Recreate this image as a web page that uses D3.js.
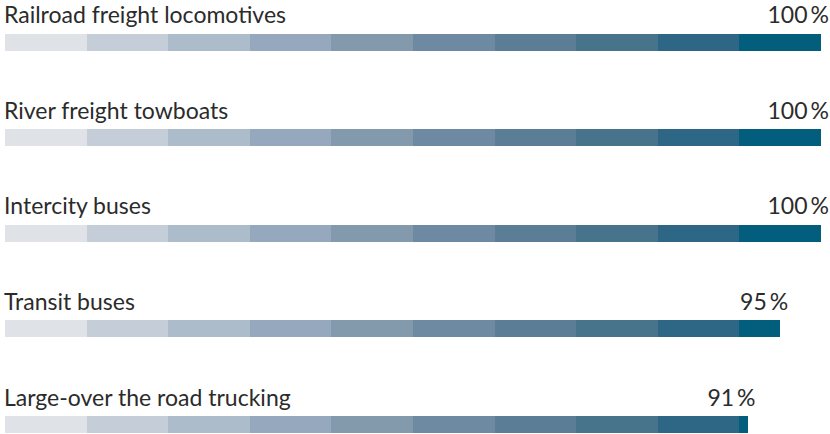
<!DOCTYPE html>
<html>
<head>
<meta charset="utf-8">
<script src="https://cdn.jsdelivr.net/npm/d3@7"></script>
<style>
  body { margin: 0; background: #fff; }
  svg { display: block; }
</style>
</head>
<body>
<div id="chart"></div>
<script>
const width = 830;
const height = 434;

const categories = [
  "Railroad freight locomotives",
  "River freight towboats",
  "Intercity buses",
  "Transit buses",
  "Large-over the road trucking"
];
const values = [100, 100, 100, 95, 91];
const steps = [0, 10, 20, 30, 40, 50, 60, 70, 80, 90];
const stepColors = [
  "#dfe3e8", "#c5ced8", "#adbccb", "#96a8bd", "#8399ac",
  "#6d8aa2", "#5b7e96", "#47748b", "#2e6785", "#035e7d"
];

const rows = categories.map((c, i) => ({ name: c, value: values[i] }));

let svg = d3.select("#chart")
            .append("svg")
            .attr("width", width)
            .attr("height", height);

let xScale = d3.scaleLinear().domain([0, 100]).range([5, 821]);
let yScale = d3.scalePoint().domain(categories).range([33.5, 416]);
const barHeight = 17;

let row = svg.selectAll(".row")
             .data(rows)
             .enter()
             .append("g")
             .attr("class", "row")
             .attr("transform", d => `translate(0,${yScale(d.name)})`);

row.selectAll("rect")
   .data(d => steps.filter(s => s < d.value).map(s => ({ start: s, end: Math.min(s + 10, d.value) })))
   .enter()
   .append("rect")
   .attr("x", d => xScale(d.start))
   .attr("width", d => xScale(d.end) - xScale(d.start))
   .attr("y", 0)
   .attr("height", barHeight)
   .attr("fill", d => stepColors[steps.indexOf(d.start)])
   .attr("shape-rendering", "crispEdges");

row.append("text")
   .attr("x", 4)
   .attr("y", -10.5)
   .attr("font-family", "Lato, sans-serif")
   .attr("font-size", 23)
   .attr("fill", "#2b2b2b")
   .text(d => d.name);

let pct = row.append("text")
   .attr("x", d => xScale(d.value) + 8)
   .attr("y", -10.5)
   .attr("text-anchor", "end")
   .attr("font-family", "Lato, sans-serif")
   .attr("font-size", 23)
   .attr("fill", "#2b2b2b");
pct.append("tspan").text(d => d.value);
pct.append("tspan").attr("dx", 3).text("%");
</script>
</body>
</html>
